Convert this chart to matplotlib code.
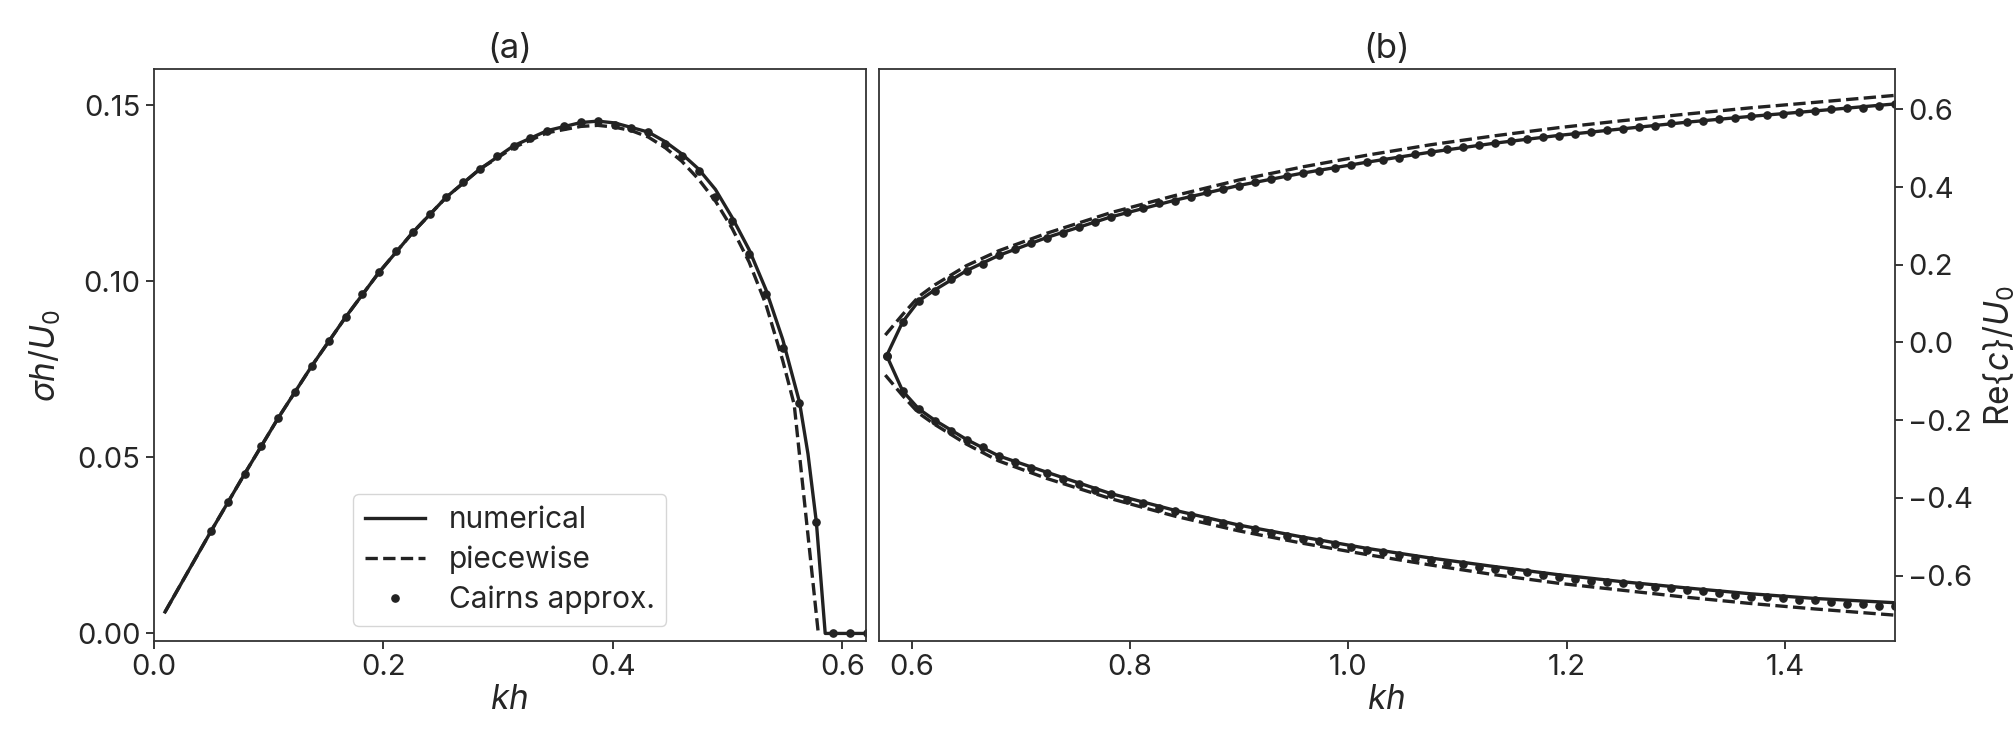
import matplotlib
matplotlib.use("Agg")
import matplotlib.pyplot as plt

plt.rcParams['font.family'] = ['Inter', 'DejaVu Sans']
plt.rcParams['mathtext.fontset'] = 'custom'
plt.rcParams['mathtext.rm'] = 'Inter'
plt.rcParams['mathtext.it'] = 'Inter:italic'
plt.rcParams['font.size'] = 20
plt.rcParams['text.color'] = '#262626'
plt.rcParams['axes.labelcolor'] = '#262626'
plt.rcParams['xtick.color'] = '#262626'
plt.rcParams['ytick.color'] = '#262626'

ink = '#222222'

# sample points of the Cairns approximation (kh)
kh = [0.0500, 0.0646, 0.0793, 0.0939, 0.1086, 0.1232, 0.1379, 0.1525, 0.1672, 0.1818,
      0.1965, 0.2111, 0.2258, 0.2404, 0.2550, 0.2697, 0.2843, 0.2990, 0.3136, 0.3283,
      0.3429, 0.3576, 0.3722, 0.3869, 0.4015, 0.4162, 0.4308, 0.4455, 0.4601, 0.4747,
      0.4894, 0.5040, 0.5187, 0.5333, 0.5480, 0.5626, 0.5773, 0.5919, 0.6066, 0.6212,
      0.6359, 0.6505, 0.6652, 0.6798, 0.6944, 0.7091, 0.7237, 0.7384, 0.7530, 0.7677,
      0.7823, 0.7970, 0.8116, 0.8263, 0.8409, 0.8556, 0.8702, 0.8848, 0.8995, 0.9141,
      0.9288, 0.9434, 0.9581, 0.9727, 0.9874, 1.0020, 1.0167, 1.0313, 1.0460, 1.0606,
      1.0753, 1.0899, 1.1045, 1.1192, 1.1338, 1.1485, 1.1631, 1.1778, 1.1924, 1.2071,
      1.2217, 1.2364, 1.2510, 1.2657, 1.2803, 1.2949, 1.3096, 1.3242, 1.3389, 1.3535,
      1.3682, 1.3828, 1.3975, 1.4121, 1.4268, 1.4414, 1.4561, 1.4707, 1.4854, 1.5000]

# (a) growth rate, Cairns dots for the first 40 points
cairns_sigma = [0.0290, 0.0372, 0.0453, 0.0533, 0.0612, 0.0686, 0.0760, 0.0831, 0.0898, 0.0963,
                0.1026, 0.1085, 0.1139, 0.1191, 0.1239, 0.1281, 0.1319, 0.1356, 0.1385, 0.1406,
                0.1428, 0.1441, 0.1453, 0.1454, 0.1445, 0.1436, 0.1423, 0.1389, 0.1355, 0.1313,
                0.1240, 0.1170, 0.1079, 0.0963, 0.0811, 0.0654, 0.0316, 0.0, 0.0, 0.0]

num_kh = [0.0100, 0.0500, 0.0793, 0.1086, 0.1379, 0.1672, 0.1965, 0.2258, 0.2550, 0.2843,
          0.3136, 0.3429, 0.3722, 0.3869, 0.4015, 0.4162, 0.4308, 0.4455, 0.4601, 0.4747,
          0.4894, 0.5040, 0.5187, 0.5333, 0.5480, 0.5626, 0.5700, 0.5773, 0.5850, 0.6300]
num_sigma = [0.0061, 0.0290, 0.0453, 0.0612, 0.0760, 0.0898, 0.1026, 0.1139, 0.1239, 0.1319,
             0.1385, 0.1428, 0.1451, 0.1455, 0.1450, 0.1437, 0.1424, 0.1397, 0.1362, 0.1319,
             0.1261, 0.1181, 0.1090, 0.0977, 0.0835, 0.0657, 0.0510, 0.0316, 0.0, 0.0]

pw_kh = [0.0100, 0.0500, 0.0793, 0.1086, 0.1379, 0.1672, 0.1965, 0.2258, 0.2550, 0.2843,
         0.3136, 0.3429, 0.3722, 0.3869, 0.4015, 0.4162, 0.4308, 0.4455, 0.4601, 0.4747,
         0.4894, 0.5040, 0.5187, 0.5333, 0.5480, 0.5580, 0.5690, 0.5745, 0.5790]
pw_sigma = [0.0061, 0.0290, 0.0453, 0.0612, 0.0760, 0.0898, 0.1026, 0.1139, 0.1239, 0.1319,
            0.1380, 0.1422, 0.1440, 0.1443, 0.1438, 0.1428, 0.1410, 0.1380, 0.1341, 0.1290,
            0.1228, 0.1150, 0.1055, 0.0935, 0.0775, 0.0650, 0.0310, 0.0140, 0.0]

# (b) phase speed, Cairns dots from kh[36] on
cairns_up = [-0.034, 0.053, 0.107, 0.133, 0.163, 0.185, 0.202, 0.225, 0.241, 0.255,
             0.270, 0.282, 0.297, 0.311, 0.324, 0.336, 0.347, 0.360, 0.365, 0.375,
             0.387, 0.394, 0.404, 0.412, 0.421, 0.428, 0.435, 0.442, 0.450, 0.457,
             0.464, 0.470, 0.476, 0.484, 0.490, 0.497, 0.502, 0.508, 0.513, 0.518,
             0.523, 0.528, 0.532, 0.537, 0.542, 0.547, 0.550, 0.554, 0.558, 0.564,
             0.568, 0.570, 0.574, 0.578, 0.583, 0.585, 0.589, 0.594, 0.596, 0.600,
             0.604, 0.604, 0.609, 0.614]
cairns_lo = [-0.034, -0.125, -0.172, -0.202, -0.228, -0.251, -0.269, -0.292, -0.307, -0.323,
             -0.335, -0.351, -0.365, -0.380, -0.391, -0.406, -0.414, -0.426, -0.435, -0.445,
             -0.457, -0.464, -0.473, -0.481, -0.490, -0.497, -0.505, -0.512, -0.519, -0.527,
             -0.534, -0.540, -0.546, -0.556, -0.560, -0.567, -0.571, -0.577, -0.582, -0.588,
             -0.592, -0.599, -0.603, -0.608, -0.613, -0.617, -0.620, -0.625, -0.629, -0.633,
             -0.637, -0.640, -0.645, -0.649, -0.655, -0.655, -0.659, -0.663, -0.663, -0.669,
             -0.673, -0.673, -0.679, -0.679]

kh_b = [0.5773, 0.5919, 0.6066, 0.6212, 0.6505, 0.6798, 0.7237, 0.7823, 0.8409, 0.8995,
        0.9581, 1.0167, 1.0753, 1.1338, 1.1924, 1.2510, 1.3096, 1.3682, 1.4268, 1.5000]
num_up = [-0.034, 0.053, 0.107, 0.135, 0.185, 0.224, 0.270, 0.323, 0.366, 0.404,
          0.436, 0.464, 0.490, 0.513, 0.533, 0.550, 0.567, 0.582, 0.596, 0.614]
num_lo = [-0.034, -0.125, -0.171, -0.200, -0.250, -0.292, -0.334, -0.389, -0.432, -0.470,
          -0.501, -0.530, -0.555, -0.577, -0.598, -0.616, -0.632, -0.647, -0.659, -0.670]

kh_pw_b = [0.5760, 0.5919, 0.6066, 0.6212, 0.6505, 0.6798, 0.7237, 0.7823, 0.8409, 0.8995,
           0.9581, 1.0167, 1.0753, 1.1338, 1.1924, 1.2510, 1.3096, 1.3682, 1.4268, 1.5000]
pw_up = [0.019, 0.072, 0.118, 0.148, 0.198, 0.236, 0.281, 0.334, 0.378, 0.418,
         0.452, 0.482, 0.509, 0.532, 0.553, 0.571, 0.588, 0.604, 0.618, 0.636]
pw_lo = [-0.084, -0.137, -0.182, -0.211, -0.262, -0.305, -0.350, -0.402, -0.447, -0.485,
         -0.517, -0.546, -0.573, -0.598, -0.620, -0.638, -0.656, -0.672, -0.686, -0.702]

fig = plt.figure(figsize=(20.15, 7.5), dpi=100)
ax1 = fig.add_axes([0.0762, 0.1451, 0.3535, 0.7624])
ax2 = fig.add_axes([0.4361, 0.1451, 0.5042, 0.7624])

lw = 2.4
ms = 5.2
lab_fs = 24
title_fs = 25

ax1.plot(num_kh, num_sigma, '-', color=ink, lw=lw, label='numerical')
ax1.plot(pw_kh, pw_sigma, '--', color=ink, lw=lw, label='piecewise')
ax1.plot(kh[:40], cairns_sigma, 'o', color=ink, ms=ms, label='Cairns approx.')
ax1.set_xlim(0, 0.6204)
ax1.set_ylim(-0.0022, 0.1602)
ax1.set_xticks([0.0, 0.2, 0.4, 0.6])
ax1.set_yticks([0.0, 0.05, 0.10, 0.15])
ax1.set_xticklabels(['0.0', '0.2', '0.4', '0.6'])
ax1.set_yticklabels(['0.00', '0.05', '0.10', '0.15'])
ax1.set_xlabel(r'$kh$', fontsize=lab_fs, labelpad=2)
ax1.set_ylabel(r'$\sigma h/U_0$', fontsize=lab_fs, labelpad=10)
ax1.set_title('(a)', fontsize=title_fs, pad=8)
leg = ax1.legend(loc='lower left', bbox_to_anchor=(0.280, 0.0266), borderaxespad=0,
                 frameon=True, fancybox=True, edgecolor='#cccccc', fontsize=21.5,
                 labelspacing=0.38)

ax2.plot(kh_b, num_up, '-', color=ink, lw=lw)
ax2.plot(kh_b, num_lo, '-', color=ink, lw=lw)
ax2.plot(kh_pw_b, pw_up, '--', color=ink, lw=lw)
ax2.plot(kh_pw_b, pw_lo, '--', color=ink, lw=lw)
ax2.plot(kh[36:], cairns_up, 'o', color=ink, ms=ms)
ax2.plot(kh[36:], cairns_lo, 'o', color=ink, ms=ms)
ax2.set_xlim(0.570, 1.5)
ax2.set_ylim(-0.769, 0.703)
ax2.set_xticks([0.6, 0.8, 1.0, 1.2, 1.4])
ax2.set_yticks([-0.6, -0.4, -0.2, 0.0, 0.2, 0.4, 0.6])
ax2.set_yticklabels(['\u22120.6', '\u22120.4', '\u22120.2', '0.0', '0.2', '0.4', '0.6'])
ax2.yaxis.tick_right()
ax2.yaxis.set_label_position('right')
ax2.set_xlabel(r'$kh$', fontsize=lab_fs, labelpad=2)
ax2.set_ylabel(r'$\mathrm{Re}\{c\}/U_0$', fontsize=lab_fs, labelpad=6)
ax2.set_title('(b)', fontsize=title_fs, pad=8)

for ax in (ax1, ax2):
    for s in ax.spines.values():
        s.set_color('#333333')
        s.set_linewidth(1.3)
    ax.tick_params(length=6, width=1.3, labelsize=21)

fig.savefig('out.png', dpi=100)
